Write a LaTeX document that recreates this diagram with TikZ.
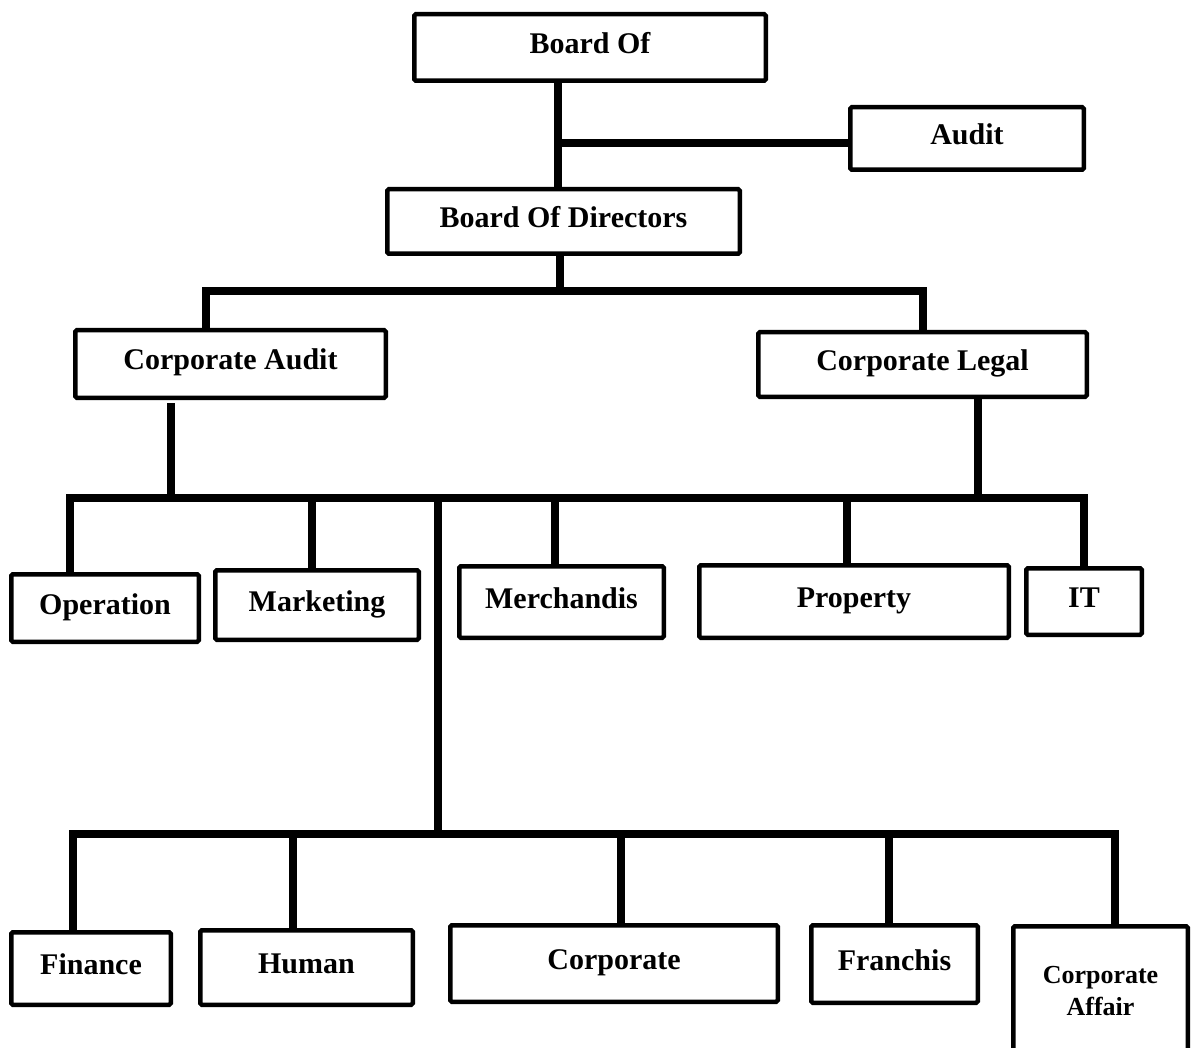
\documentclass[tikz,border=0pt]{standalone}
\usepackage{fontspec}
\setmainfont{Liberation Serif}
\newcommand\orgbox[7][]{%
  \node[box,#1,minimum width={(#4-#3-4.5)*1pt},minimum height={(#6-#5-4.5)*1pt}]
    (#2) at ({(#3+#4)/2},{(#5+#6)/2}) {#7};}
\tikzset{
  box/.style={draw,line width=4.5pt,rounded corners=1.5pt,inner sep=0pt,
    font=\fontsize{30}{34}\selectfont\bfseries,text height=20pt,text depth=8pt,align=center},
  conn/.style={line width=8pt,line join=miter},
}
\begin{document}
\begin{tikzpicture}[x=1pt,y=-1pt]
\useasboundingbox (0,0) rectangle (1199,1048);
% boxes
\orgbox{boardof}{412}{768}{12}{83}{Board Of}
\orgbox{audit}{848}{1086}{105}{172}{Audit}
\orgbox{bod}{385}{742}{187}{256}{Board Of Directors}
\orgbox{caudit}{73}{388}{328}{400}{Corporate Audit}
\orgbox{clegal}{756}{1089}{330}{399}{Corporate Legal}
\orgbox{operation}{9}{201}{572}{644}{Operation}
\orgbox{marketing}{213}{421}{568}{642}{Marketing}
\orgbox{merch}{457}{666}{564}{640}{Merchandis}
\orgbox{property}{697}{1011}{563}{640}{Property}
\orgbox{it}{1024}{1144}{566}{637}{IT}
\orgbox{finance}{9}{173}{930}{1007}{Finance}
\orgbox{human}{198}{415}{928}{1007}{Human}
\orgbox{corporate}{448}{780}{923}{1004}{Corporate}
\orgbox{franchis}{809}{980}{923}{1005}{Franchis}
\orgbox[font=\fontsize{26}{32}\selectfont\bfseries,text height=,text depth=]{caffair}{1011}{1190}{924}{1058}{Corporate\\Affair}
% junctions
\coordinate (j0) at (558,143);
\coordinate (b1) at (560,291);
\coordinate (b2) at (438,498);
\coordinate (b3) at (438,834);
% connectors
\draw[conn] (boardof.south -| j0) -- (bod.north -| j0);
\draw[conn] (j0) -- (audit.west |- j0);
\draw[conn] (bod.south -| b1) -- (b1);
\draw[conn] ([xshift=-24.5pt]caudit.north) |- (b1) -| (clegal.north);
\draw[conn] ([xshift=-35pt]operation.north) |- (b2) -| (it.north);
\draw[conn] ([xshift=-5pt]marketing.north) -- ([xshift=-5pt]marketing.north |- b2);
\draw[conn] ([xshift=-6.5pt]merch.north) -- ([xshift=-6.5pt]merch.north |- b2);
\draw[conn] ([xshift=-7pt]property.north) -- ([xshift=-7pt]property.north |- b2);
\draw[conn] ([xshift=-59.5pt,yshift=-3pt]caudit.south) -- ([xshift=-59.5pt]caudit.south |- b2);
\draw[conn] ([xshift=55.5pt]clegal.south) -- ([xshift=55.5pt]clegal.south |- b2);
\draw[conn] (b2) -- (b3);
\draw[conn] ([xshift=-18pt]finance.north) |- (b3) -| ([xshift=14pt]caffair.north);
\draw[conn] ([xshift=-13.5pt]human.north) -- ([xshift=-13.5pt]human.north |- b3);
\draw[conn] ([xshift=7pt]corporate.north) -- ([xshift=7pt]corporate.north |- b3);
\draw[conn] ([xshift=-5.5pt]franchis.north) -- ([xshift=-5.5pt]franchis.north |- b3);
\end{tikzpicture}
\end{document}
